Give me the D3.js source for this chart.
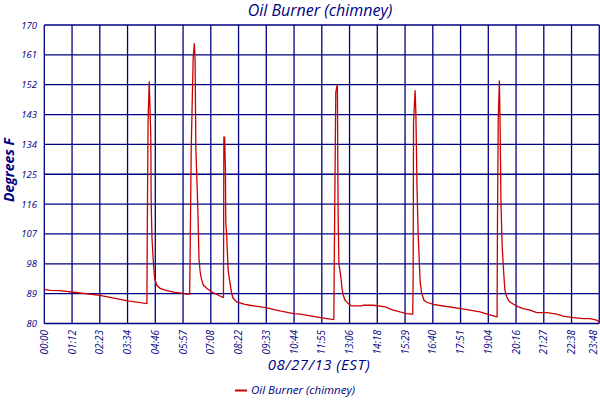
<!DOCTYPE html>
<html><head><meta charset="utf-8">
<script src="https://cdn.jsdelivr.net/npm/d3@7"></script>
<style>
body{margin:0;background:#fff;}
text{font-family:"Open Sans",sans-serif;font-style:italic;fill:#000080;}
</style></head><body>
<svg id="c" width="600" height="400"></svg>
<script>
const title = "Oil Burner (chimney)";
const seriesName = "Oil Burner (chimney)";
const xTitle = "08/27/13 (EST)";
const yTitle = "Degrees F";
const xTickLabels = ["00:00","01:12","02:23","03:34","04:46","05:57","07:08","08:22","09:33","10:44","11:55","13:06","14:18","15:29","16:40","17:51","19:04","20:16","21:27","22:38","23:48"];
const yTicks = [80,89,98,107,116,125,134,143,152,161,170];
// minutes since midnight
const minutes = [0,15,40,71,143,215,264,265,267,270,274,275,277,280,282,284,289,298,315,336,358,365,374,375,378,383,386,388,390,395,398,401,404,409,418,431,444,452,459,461,462,464,466,467,469,473,476,482,486,495,516,529,570,606,642,658,715,744,745,746,750,754,756,758,763,766,769,774,782,791,817,821,847,877,894,915,932,945,948,949,950,954,956,959,962,967,971,977,984,1001,1014,1072,1121,1144,1165,1166,1168,1171,1173,1175,1178,1181,1185,1190,1196,1207,1220,1232,1250,1267,1293,1318,1335,1361,1387,1404,1421,1428];
const temps = [90.3,90.0,89.9,89.5,88.5,86.8,86.0,108.1,141.0,153.0,136.7,116.7,105.9,99.6,96.3,93.6,91.6,90.6,89.9,89.4,89.1,88.9,88.9,98.6,132.7,159.8,164.5,159.8,132.7,114.7,99.6,95.6,93.6,91.6,90.6,89.5,88.8,88.3,87.9,87.9,136.2,136.2,126.7,110.1,107.3,96.1,93.6,89.1,87.6,86.5,85.8,85.5,84.8,83.8,83.0,82.8,81.7,81.2,81.5,98.6,149.8,152.1,112.7,98.1,94.1,90.6,88.6,87.0,86.0,85.3,85.3,85.5,85.5,85.0,84.2,83.5,83.0,82.8,82.8,92.9,140.3,150.3,143.8,120.7,106.6,92.6,89.1,87.0,86.4,85.8,85.5,84.5,83.5,82.7,82.0,110.6,141.8,153.3,137.7,116.2,103.6,97.1,90.1,88.0,86.7,85.8,85.0,84.5,84.0,83.3,83.3,82.8,82.2,81.8,81.5,81.5,81.0,80.5];

const svg = d3.select("#c");
const L=44.3, R=599.3, T=25, B=323.5;
const x = d3.scaleLinear().domain([0,1428]).range([L,R]);
const xi = d3.scaleLinear().domain([0,xTickLabels.length-1]).range([L,R]);
const y = d3.scaleLinear().domain([80,170]).range([B,T]);
const grid = "#000080";

// grid
const g = svg.append("g");
g.selectAll("line.v").data(xTickLabels).enter().append("line")
  .attr("x1",(d,i)=>xi(i)).attr("x2",(d,i)=>xi(i)).attr("y1",T).attr("y2",B)
  .attr("stroke",grid).attr("stroke-width",1.3);
g.selectAll("line.h").data(yTicks).enter().append("line")
  .attr("x1",L).attr("x2",R).attr("y1",d=>y(d)).attr("y2",d=>y(d))
  .attr("stroke",grid).attr("stroke-width",1.3);

// y labels
svg.selectAll("text.yl").data(yTicks).enter().append("text")
  .attr("x",37).attr("y",d=>y(d)+3.5).attr("text-anchor","end")
  .attr("font-size",9.5).text(d=>d);
// x labels
svg.selectAll("text.xl").data(xTickLabels).enter().append("text")
  .attr("transform",(d,i)=>`translate(${Math.min(xi(i)+3.5,597)},330) rotate(-90)`)
  .attr("text-anchor","end").attr("font-size",10).text(d=>d);

// line
const line = d3.line().x((d,i)=>x(minutes[i])).y(d=>y(d));
svg.append("path").datum(temps).attr("d",line)
  .attr("fill","none").attr("stroke","#cc0000").attr("stroke-width",1.3);

// titles
svg.append("text").attr("x",320).attr("y",16).attr("text-anchor","middle")
  .attr("font-size",16).text(title);
svg.append("text").attr("transform","translate(14,170) rotate(-90)")
  .attr("text-anchor","middle").attr("font-size",14).attr("font-weight","bold").text(yTitle);
svg.append("text").attr("x",319).attr("y",370).attr("text-anchor","middle")
  .attr("font-size",15).attr("letter-spacing",0.5).text(xTitle);

// legend
svg.append("line").attr("x1",235).attr("x2",247).attr("y1",390.5).attr("y2",390.5)
  .attr("stroke","#cc0000").attr("stroke-width",2);
svg.append("text").attr("x",251).attr("y",394).attr("font-size",11.5).text(seriesName);
</script>
</body></html>
